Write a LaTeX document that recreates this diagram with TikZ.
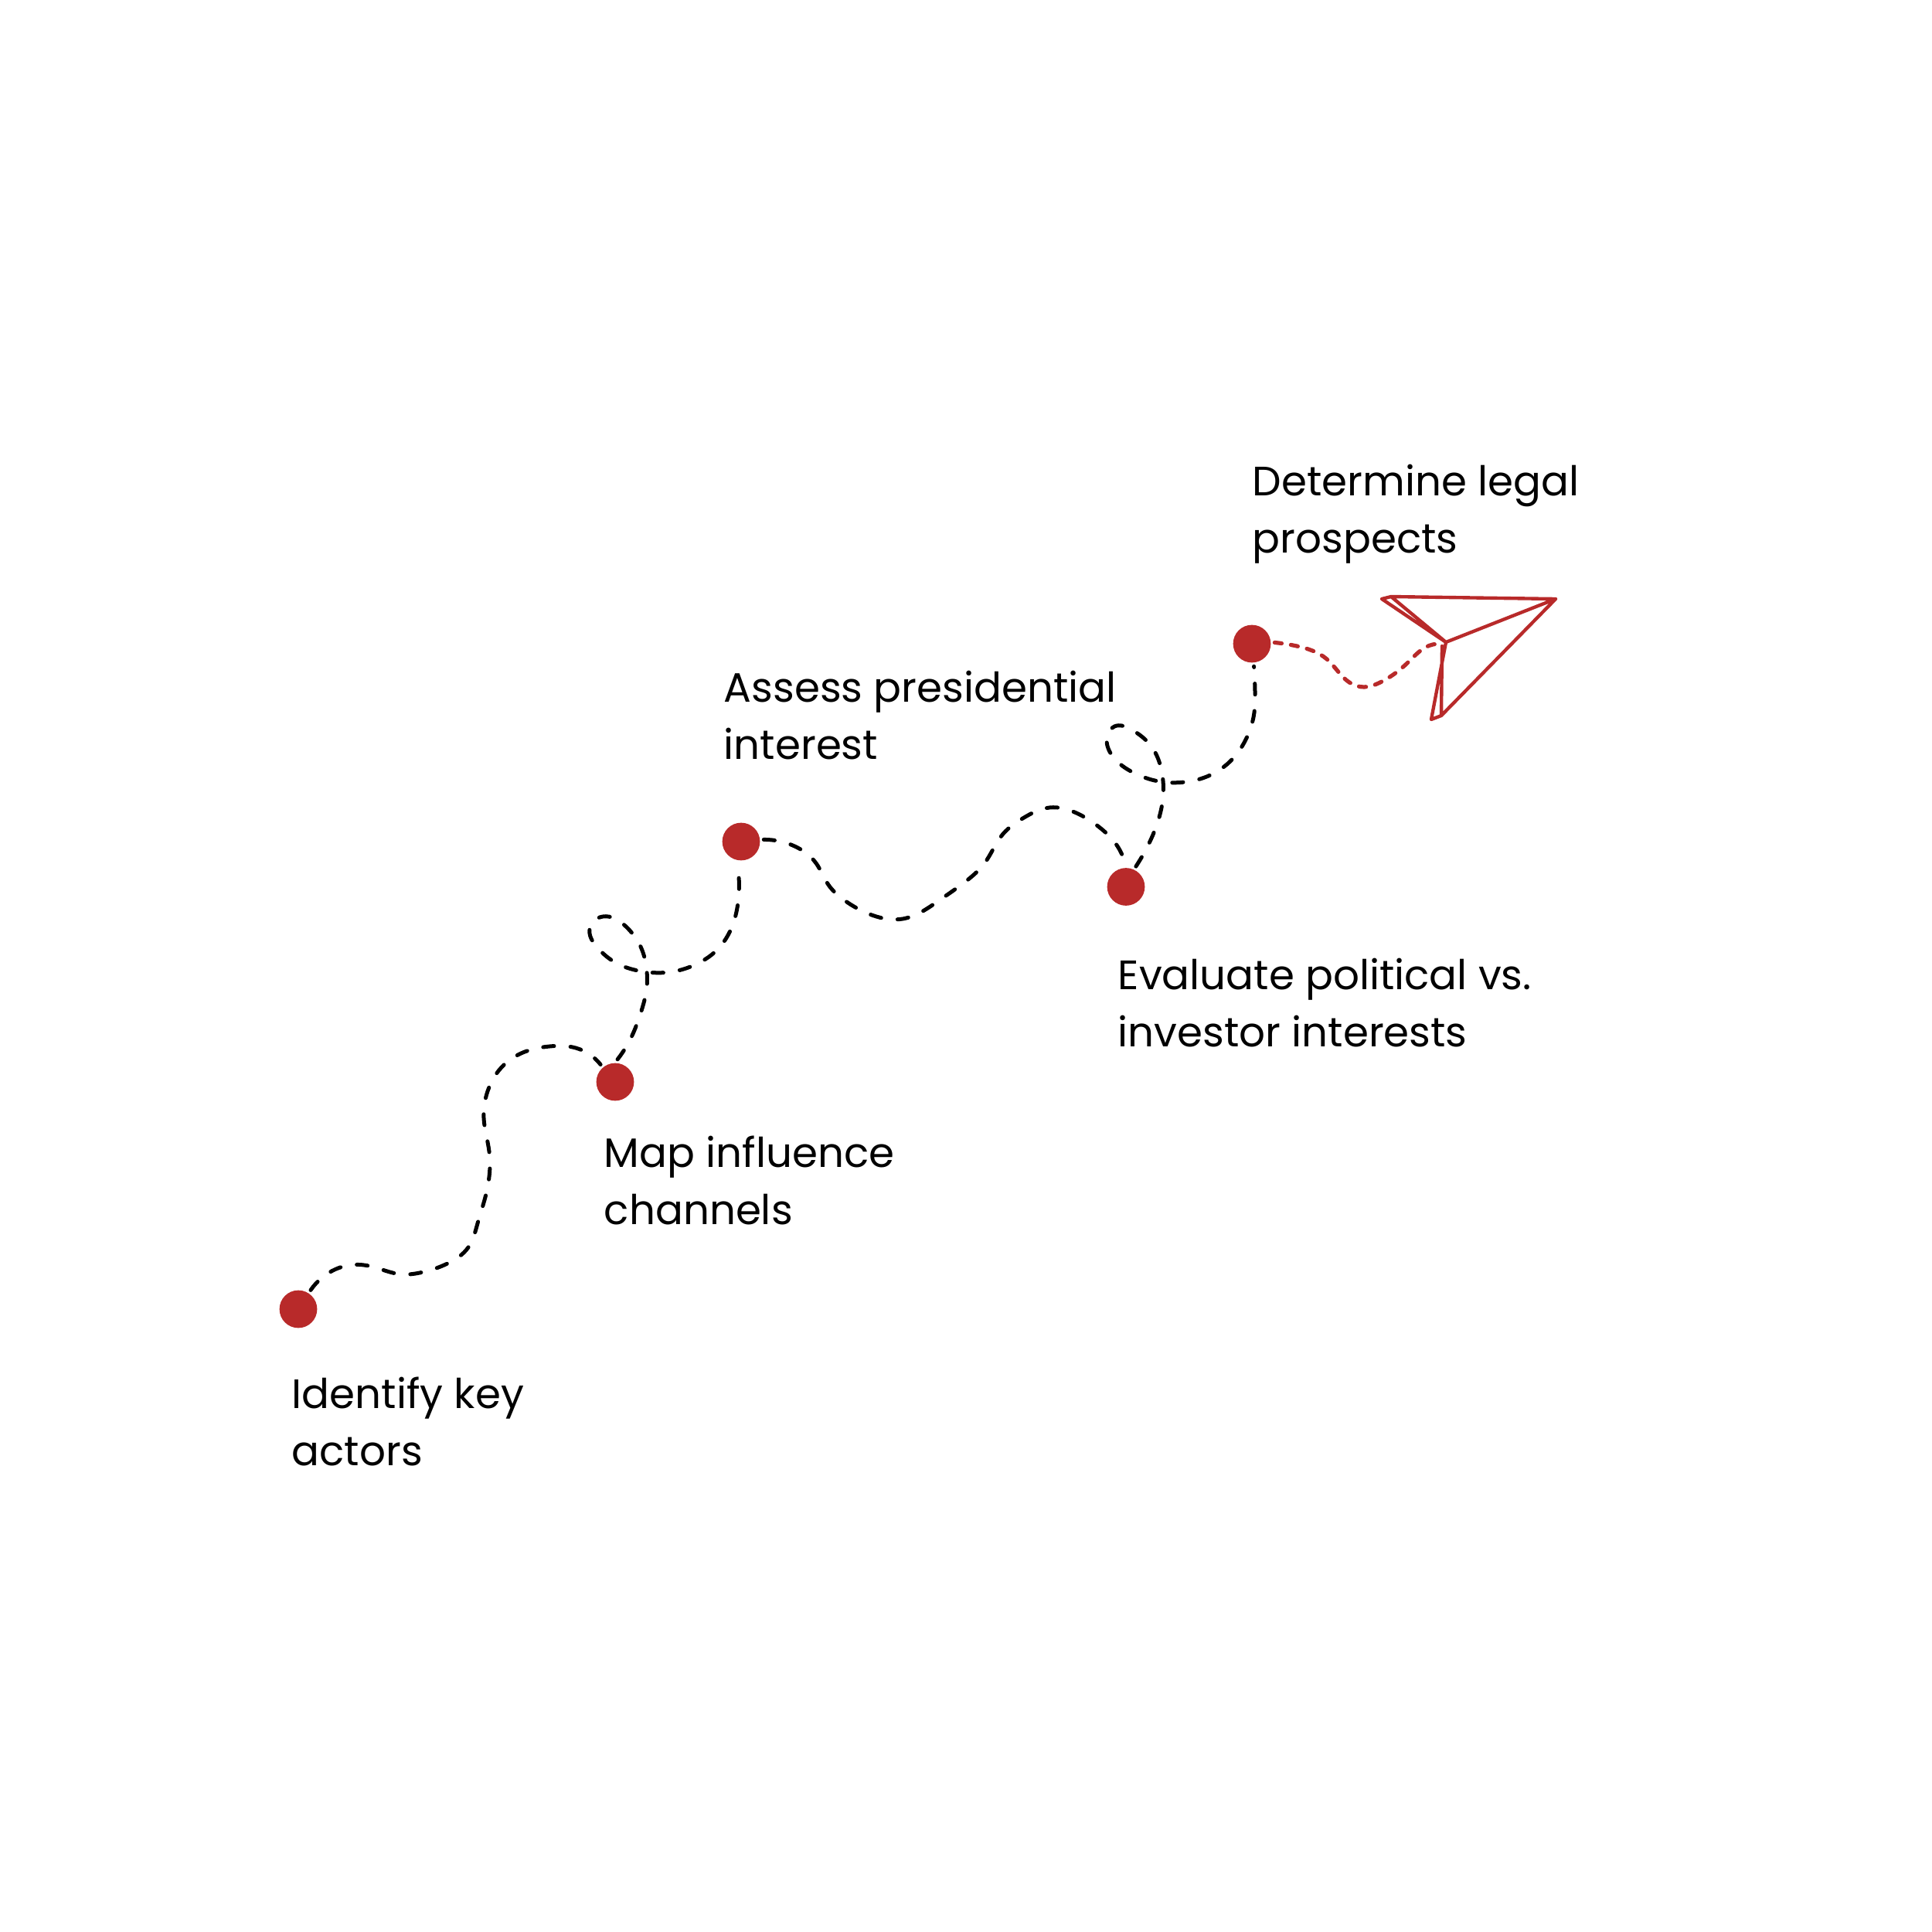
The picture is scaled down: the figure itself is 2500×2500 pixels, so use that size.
\documentclass[tikz,border=0pt]{standalone}
\usepackage{fontspec}
\setmainfont{Poppins}
\usetikzlibrary{hobby}
\definecolor{cr}{HTML}{B82A2A}
\tikzset{
 dotn/.style={circle,fill=cr,inner sep=0pt,minimum size=11.7pt,outer sep=1.2pt},
 lbl/.style={anchor=north west,inner sep=0pt,align=left,font=\fontsize{12.75}{17.8}\selectfont,text=black},
 trail/.style={use Hobby shortcut,line width=1.2pt,line cap=round,dash pattern=on 3.4pt off 5.1pt,black},
 redtrail/.style={use Hobby shortcut,line width=1.25pt,line cap=round,dash pattern=on 2.2pt off 2.9pt,cr},
 plane/.style={line width=1.05pt,line join=round,line cap=round,cr},
}
\begin{document}
\begin{tikzpicture}[x=0.24pt,y=-0.24pt]
\useasboundingbox (0,0) rectangle (2500,2500);
\node[dotn] (d1) at (386,1694) {};
\node[dotn] (d2) at (796,1400) {};
\node[dotn] (d3) at (959,1089) {};
\node[dotn] (d4) at (1457,1147.5) {};
\node[dotn] (d5) at (1620,833) {};
\coordinate (pc) at (1867,834);
\coordinate (pa) at (1788,775);
\coordinate (pb) at (1800,772);
\coordinate (pr) at (2013,775);
\coordinate (pv) at (1871,831);
\coordinate (pd) at (1852,931);
\coordinate (pe) at (1865,926);
\coordinate (pw) at (1866,836);
\node[lbl] (t1) at (377,1781) {Identify key\\actors};
\node[lbl] (t2) at (781,1469) {Map influence\\channels};
\node[lbl] (t3) at (936,867) {Assess presidential\\interest};
\node[lbl] (t4) at (1446,1239) {Evaluate political vs.\\investor interests};
\node[lbl] (t5) at (1620,600) {Determine legal\\prospects};
\draw[trail] (d1.57) .. (417,1653) .. (453,1637) .. (477,1638) .. (520,1649) .. (543,1647) .. (579,1635) .. (606,1614) .. (618,1583) .. (629,1545) .. (633,1490) .. (626,1447) .. (631,1412) .. (652,1378) .. (679,1361) .. (711,1354) .. (745,1356) .. (d2.130);
\draw[trail] (d2.84) .. (817,1342) .. (829,1311) .. (837,1277) .. (837,1257) .. (829,1225) .. (809,1198) .. (780,1186) .. (763,1202) .. (772,1225) .. (799,1247) .. (831,1257) .. (866,1258) .. (898,1249) .. (927,1230) .. (946,1202) .. (955,1168) .. (956,1135) .. (d3.-100);
\draw[trail] (d3.5) .. (1026,1094) .. (1056,1117) .. (1072,1145) .. (1097,1168) .. (1134,1186) .. (1168,1189) .. (1214,1166) .. (1249,1141) .. (1274,1117) .. (1298,1079) .. (1325,1058) .. (1358,1045) .. (1395,1053) .. (1422,1070) .. (1446,1095) .. (d4.92);
\draw[trail] (d4.64) .. (1485,1095) .. (1498,1064) .. (1505,1031) .. (1503,997) .. (1490,966) .. (1464,944) .. (1442,940) .. (1432,957) .. (1440,979) .. (1467,1000) .. (1499,1011) .. (1533,1012) .. (1566,1003) .. (1594,983) .. (1613,955) .. (1623,922) .. (1624,895) .. (d5.-85);
\draw[redtrail] (d5.3) .. (1678,836) .. (1717,853) .. (1746,883) .. (1765,889) .. (1786,883) .. (1821,858) .. (1854,834) .. (pc);
\draw[plane] (pa) -- (pb) -- (pr) -- (pv) -- (pb) (pa) -- (pv) (pr) -- (pe) -- (pd) -- (pv) (pw) -- (pe);
\end{tikzpicture}
\end{document}
